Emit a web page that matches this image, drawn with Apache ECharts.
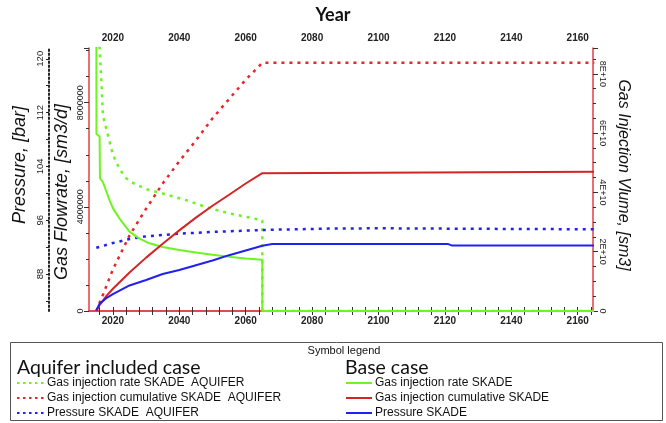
<!DOCTYPE html>
<html>
<head>
<meta charset="utf-8">
<script src="https://cdn.jsdelivr.net/npm/echarts@6/dist/echarts.min.js"></script>
<style>
  html, body { margin: 0; padding: 0; background: #fff; }
  #chart { width: 666px; height: 423px; }
</style>
</head>
<body>
<div id="chart"></div>
<script>
// Year ticks / labels
const yearLabels = [2020, 2040, 2060, 2080, 2100, 2120, 2140, 2160];
const yearTicks = [2016, 2020, 2024, 2028, 2032, 2036, 2040, 2044, 2048, 2052, 2056, 2060, 2064, 2068, 2072, 2076, 2080, 2084, 2088, 2092, 2096, 2100, 2104, 2108, 2112, 2116, 2120, 2124, 2128, 2132, 2136, 2140, 2144, 2148, 2152, 2156, 2160, 2164];
const pressureLabels = [88, 96, 104, 112, 120];
const pressureTicks = [84, 88, 92, 96, 100, 104, 108, 112, 116, 120];
const flowLabels = [0, 4000000, 8000000];

// Gas injection rate SKADE (base case), sm3/d
const rateBaseYears  = [2015, 2015.05, 2016, 2016.1, 2017, 2018, 2019, 2020, 2021, 2022, 2025, 2028, 2031, 2035, 2040, 2045, 2050, 2055, 2060, 2065, 2065.001, 2165];
const rateBaseValues = [12.0e6, 6.8e6, 6.7e6, 5.1e6, 4.95e6, 4.6e6, 4.25e6, 3.95e6, 3.75e6, 3.55e6, 3.05e6, 2.78e6, 2.6e6, 2.46e6, 2.34e6, 2.25e6, 2.16e6, 2.08e6, 2.02e6, 1.97e6, 0, 0];

// Gas injection rate SKADE AQUIFER, sm3/d
const rateAqYears  = [2015, 2016, 2016.6, 2017, 2018, 2019, 2020, 2022, 2024, 2026, 2030, 2034, 2038, 2042, 2046, 2050, 2055, 2060, 2065, 2065.001, 2165];
const rateAqValues = [16.0e6, 10.1e6, 8.6e6, 7.5e6, 7.0e6, 6.5e6, 6.0e6, 5.45e6, 5.1e6, 4.92e6, 4.68e6, 4.55e6, 4.4e6, 4.26e6, 4.08e6, 3.92e6, 3.75e6, 3.62e6, 3.48e6, 0, 0];

// Gas injection cumulative SKADE (base case), sm3
const cumBaseYears  = [2015, 2016, 2018, 2020, 2025, 2030, 2035, 2040, 2045, 2050, 2055, 2060, 2065, 2065.5, 2165];
const cumBaseValues = [0, 0.2e10, 0.5e10, 0.75e10, 1.3e10, 1.8e10, 2.27e10, 2.72e10, 3.15e10, 3.55e10, 3.92e10, 4.3e10, 4.65e10, 4.7e10, 4.7e10];

// Gas injection cumulative SKADE AQUIFER, sm3
const cumAqYears  = [2015, 2017, 2020, 2025, 2030, 2035, 2040, 2045, 2050, 2055, 2060, 2065, 2165];
const cumAqValues = [0, 0.55e10, 1.4e10, 2.55e10, 3.45e10, 4.3e10, 5.05e10, 5.75e10, 6.5e10, 7.15e10, 7.8e10, 8.37e10, 8.37e10];

// Pressure SKADE (base case), bar
const presBaseYears  = [2015, 2016, 2018, 2020, 2025, 2030, 2035, 2040, 2045, 2050, 2055, 2060, 2065, 2068, 2121, 2122, 2165];
const presBaseValues = [82.6, 83.6, 84.4, 85.0, 86.3, 87.1, 88.0, 88.6, 89.3, 90.0, 90.8, 91.5, 92.2, 92.45, 92.45, 92.25, 92.25];

// Pressure SKADE AQUIFER, bar
const presAqYears  = [2015, 2020, 2025, 2030, 2040, 2050, 2065, 2085, 2100, 2130, 2165];
const presAqValues = [91.9, 92.6, 93.2, 93.6, 94.0, 94.25, 94.55, 94.75, 94.8, 94.72, 94.65];

const pairs = (xs, ys) => xs.map((x, i) => [x, ys[i]]);

const GREEN = '#6cf520';
const RED_D = '#e8262a';
const RED_S = '#d42424';
const BLUE = '#2020f0';
const FRAME = '#e04040';
const DOTTED = [3, 5];

// Symbol legend rows: [label, colour, dashed?]
const legendAquifer = [
  ['Gas injection rate SKADE  AQUIFER', GREEN],
  ['Gas injection cumulative SKADE  AQUIFER', RED_D],
  ['Pressure SKADE  AQUIFER', BLUE]
];
const legendBase = [
  ['Gas injection rate SKADE', GREEN],
  ['Gas injection cumulative SKADE', RED_S],
  ['Pressure SKADE', BLUE]
];

const chart = echarts.init(document.getElementById('chart'), null, { renderer: 'canvas' });

const xBase = {
  type: 'value', min: 2012.8, max: 2164.6,
  axisLine: { lineStyle: { color: FRAME, width: 1.5 } },
  axisTick: { customValues: yearTicks, length: 4, lineStyle: { color: '#333' } },
  axisLabel: { customValues: yearLabels, formatter: v => String(v), fontFamily: 'Liberation Sans', fontWeight: 'bold', fontSize: 10, color: '#222', margin: 5 },
  splitLine: { show: false }
};

const legendGraphics = [];
const rowY = [383, 398, 413];
legendAquifer.forEach((item, i) => {
  legendGraphics.push({ type: 'line', shape: { x1: 17, y1: rowY[i], x2: 45, y2: rowY[i] }, style: { stroke: item[1], lineWidth: 2, lineDash: [2.5, 3.5] } });
  legendGraphics.push({ type: 'text', x: 47, y: rowY[i], style: { text: item[0], font: '12px "Liberation Sans"', fill: '#111', verticalAlign: 'middle' } });
});
legendBase.forEach((item, i) => {
  legendGraphics.push({ type: 'line', shape: { x1: 346, y1: rowY[i], x2: 372, y2: rowY[i] }, style: { stroke: item[1], lineWidth: 2 } });
  legendGraphics.push({ type: 'text', x: 375, y: rowY[i], style: { text: item[0], font: '12px "Liberation Sans"', fill: '#111', verticalAlign: 'middle' } });
});

const option = {
  animation: false,
  backgroundColor: '#fff',
  grid: { left: 89, right: 73, top: 48, bottom: 112, containLabel: false },
  xAxis: [
    Object.assign({}, xBase, { position: 'bottom' }),
    Object.assign({}, xBase, { position: 'top' })
  ],
  yAxis: [
    {
      type: 'value', position: 'left', min: 0, max: 10.1e6, interval: 4e6,
      axisLine: { show: true, lineStyle: { color: FRAME, width: 1.5 } },
      axisTick: { show: true, length: 5, lineStyle: { color: '#333' } },
      minorTick: { show: true, splitNumber: 4, length: 3, lineStyle: { color: '#333' } },
      axisLabel: { customValues: flowLabels, formatter: v => String(v), rotate: 90, fontFamily: 'Liberation Sans', fontSize: 9, color: '#222', margin: 4 },
      splitLine: { show: false }
    },
    {
      type: 'value', position: 'left', offset: 40, min: 82.5, max: 121.6,
      axisLine: { show: true, lineStyle: { color: '#222', width: 2, type: [1.5, 2.5] } },
      axisTick: { show: true, customValues: pressureTicks, length: 3, lineStyle: { color: '#222' } },
      axisLabel: { customValues: pressureLabels, formatter: v => String(v), rotate: 90, fontFamily: 'Liberation Sans', fontSize: 9.5, color: '#222', margin: 4 },
      splitLine: { show: false }
    },
    {
      type: 'value', position: 'right', min: 0, max: 8.87e10, interval: 2e10,
      axisLine: { show: true, lineStyle: { color: FRAME, width: 1.5 } },
      axisTick: { show: true, length: 5, lineStyle: { color: '#333' } },
      minorTick: { show: true, splitNumber: 4, length: 3, lineStyle: { color: '#333' } },
      axisLabel: {
        rotate: -90, fontFamily: 'Liberation Sans', fontSize: 9, color: '#222', margin: 5,
        formatter: v => v === 0 ? '0' : (v / 1e10) + 'E+10'
      },
      splitLine: { show: false }
    }
  ],
  graphic: [
    { type: 'text', left: 'center', top: 6, style: { text: 'Year', font: 'bold 18px Lato', fill: '#111' } },
    { type: 'text', x: 20, y: 165, rotation: Math.PI / 2, style: { text: 'Pressure, [bar]', font: 'italic 18px "Liberation Sans"', fill: '#111', align: 'center', verticalAlign: 'middle' } },
    { type: 'text', x: 62, y: 192, rotation: Math.PI / 2, style: { text: 'Gas Flowrate, [sm3/d]', font: 'italic 18px "Liberation Sans"', fill: '#111', align: 'center', verticalAlign: 'middle' } },
    { type: 'text', x: 623, y: 175, rotation: -Math.PI / 2, style: { text: 'Gas Injection Vlume, [sm3]', font: 'italic 16px "Liberation Sans"', fill: '#111', align: 'center', verticalAlign: 'middle' } },
    { type: 'rect', shape: { x: 10.5, y: 342.5, width: 652, height: 78 }, style: { fill: 'none', stroke: '#555', lineWidth: 1 } },
    { type: 'text', x: 344, y: 351, style: { text: 'Symbol legend', font: '11px "Liberation Sans"', fill: '#111', align: 'center', verticalAlign: 'middle' } },
    { type: 'text', x: 17, y: 368, style: { text: 'Aquifer included case', font: '19.5px Lato', fill: '#111', verticalAlign: 'middle' } },
    { type: 'text', x: 345, y: 368, style: { text: 'Base case', font: '19.5px Lato', fill: '#111', verticalAlign: 'middle' } }
  ].concat(legendGraphics),
  series: [
    {
      name: 'Gas injection rate SKADE  AQUIFER', type: 'line', xAxisIndex: 0, yAxisIndex: 0,
      data: pairs(rateAqYears, rateAqValues), showSymbol: false, symbol: 'none', clip: true,
      lineStyle: { color: GREEN, width: 2.5, type: DOTTED }, itemStyle: { color: GREEN }
    },
    {
      name: 'Gas injection cumulative SKADE  AQUIFER', type: 'line', xAxisIndex: 0, yAxisIndex: 2,
      data: pairs(cumAqYears, cumAqValues), showSymbol: false, symbol: 'none', clip: true,
      lineStyle: { color: RED_D, width: 2.5, type: DOTTED }, itemStyle: { color: RED_D }
    },
    {
      name: 'Pressure SKADE  AQUIFER', type: 'line', xAxisIndex: 0, yAxisIndex: 1,
      data: pairs(presAqYears, presAqValues), showSymbol: false, symbol: 'none', clip: true,
      lineStyle: { color: BLUE, width: 2.5, type: DOTTED }, itemStyle: { color: BLUE }
    },
    {
      name: 'Gas injection rate SKADE', type: 'line', xAxisIndex: 0, yAxisIndex: 0,
      data: pairs(rateBaseYears, rateBaseValues), showSymbol: false, symbol: 'none', clip: true,
      lineStyle: { color: GREEN, width: 2 }, itemStyle: { color: GREEN }
    },
    {
      name: 'Gas injection cumulative SKADE', type: 'line', xAxisIndex: 0, yAxisIndex: 2,
      data: pairs(cumBaseYears, cumBaseValues), showSymbol: false, symbol: 'none', clip: true,
      lineStyle: { color: RED_S, width: 2 }, itemStyle: { color: RED_S }
    },
    {
      name: 'Pressure SKADE', type: 'line', xAxisIndex: 0, yAxisIndex: 1,
      data: pairs(presBaseYears, presBaseValues), showSymbol: false, symbol: 'none', clip: true,
      lineStyle: { color: BLUE, width: 2 }, itemStyle: { color: BLUE }
    }
  ]
};

chart.setOption(option);
</script>
</body>
</html>
